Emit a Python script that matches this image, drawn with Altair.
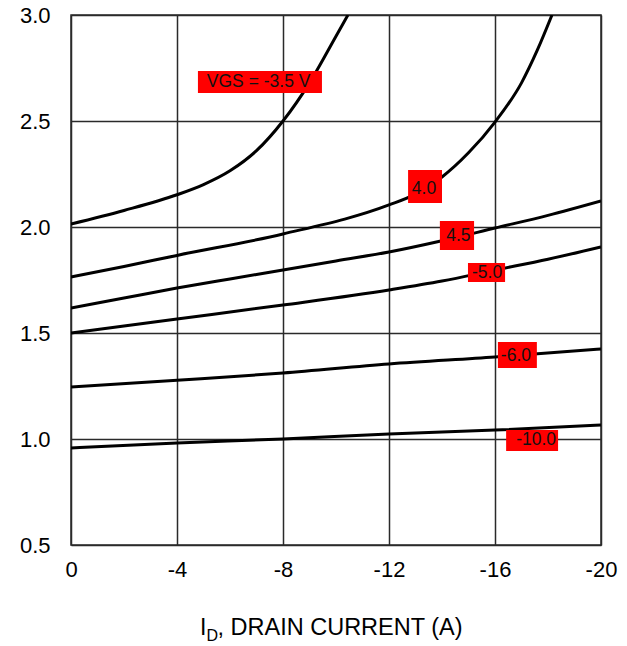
import altair as alt
import pandas as pd

# ---- data ----
SERIES = ["-3.5", "-4.0", "-4.5", "-5.0", "-6.0", "-10.0"]

ID_35 = [0, -2, -4, -5, -6, -7, -8, -9, -10, -10.45]
V_35 = [2.014, 2.078, 2.152, 2.2, 2.265, 2.36, 2.5, 2.68, 2.9, 3.0]

ID_40 = [0, -2, -4, -8, -12, -13, -14, -15, -16, -17, -17.6, -18.15]
V_40 = [1.764, 1.814, 1.866, 1.967, 2.104, 2.155, 2.236, 2.35, 2.495, 2.68, 2.835, 3.0]

ID_45 = [0, -2, -4, -6, -8, -10, -12, -14, -16, -18, -20]
V_45 = [1.618, 1.665, 1.712, 1.755, 1.797, 1.84, 1.882, 1.935, 1.995, 2.055, 2.123]

ID_50 = [0, -4, -8, -12, -14, -16, -18, -20]
V_50 = [1.5, 1.566, 1.632, 1.703, 1.745, 1.797, 1.848, 1.906]

ID_60 = [0, -4, -8, -12, -16, -20]
V_60 = [1.245, 1.277, 1.311, 1.354, 1.387, 1.425]

ID_100 = [0, -4, -8, -12, -16, -20]
V_100 = [0.958, 0.981, 1.0, 1.024, 1.042, 1.066]

CURVES = [ID_35, ID_40, ID_45, ID_50, ID_60, ID_100]
VALUES = [V_35, V_40, V_45, V_50, V_60, V_100]

X_TICKS = [0, -4, -8, -12, -16, -20]
Y_TICKS = [0.5, 1.0, 1.5, 2.0, 2.5, 3.0]

# annotation labels (data coordinates)
LABEL_TEXT = ["VGS = -3.5 V", "4.0", "4.5", "-5.0", "-6.0", "-10.0"]
LABEL_X = [-7.08, -13.32, -14.62, -15.70, -16.79, -17.55]
LABEL_Y = [2.684, 2.179, 1.958, 1.783, 1.392, 0.995]
BOX_X0 = [-4.79, -12.72, -13.92, -14.98, -16.11, -16.42]
BOX_X1 = [-9.47, -14.00, -15.21, -16.38, -17.58, -18.38]
BOX_Y0 = [2.632, 2.113, 1.892, 1.741, 1.335, 0.943]
BOX_Y1 = [2.736, 2.269, 2.028, 1.830, 1.458, 1.042]

# ---- tables ----
rows = []
for s, xs, ys in zip(SERIES, CURVES, VALUES):
    for i, (a, b) in enumerate(zip(xs, ys)):
        rows.append({"series": s, "ID": a, "V": b, "ord": i})
df = pd.DataFrame(rows)

lab = pd.DataFrame({
    "text": LABEL_TEXT, "x": LABEL_X, "y": LABEL_Y,
    "x0": BOX_X0, "x1": BOX_X1, "y0": BOX_Y0, "y1": BOX_Y1,
})

FONT = "Liberation Sans"
GRID = "#2a2a2a"

xscale = alt.Scale(domain=[0, -20], nice=False, zero=False)
yscale = alt.Scale(domain=[0.5, 3.0], nice=False, zero=False)

xaxis = alt.Axis(
    values=X_TICKS, title=None, grid=True, gridColor=GRID, gridWidth=1.5,
    gridOpacity=1, domain=False, ticks=False, tickSize=0, labelFont=FONT,
    labelFontSize=22, labelColor="black", labelPadding=14,
    labelExpr="'' + datum.value", labelFlush=False)
yaxis = alt.Axis(
    values=Y_TICKS, title=None, grid=True, gridColor=GRID, gridWidth=1.5,
    gridOpacity=1, domain=False, ticks=False, tickSize=0, labelFont=FONT,
    labelFontSize=22, labelColor="black", labelPadding=21, format=".1f",
    labelFlush=False)

lines = alt.Chart(df).mark_line(
    color="black", strokeWidth=3, clip=True, interpolate="monotone"
).encode(
    x=alt.X("ID:Q", scale=xscale, axis=xaxis, title=None),
    y=alt.Y("V:Q", scale=yscale, axis=yaxis, title=None),
    detail="series:N",
    order="ord:Q",
)

boxes = alt.Chart(lab).mark_rect(color="#ff0000").encode(
    x=alt.X("x0:Q", scale=xscale, axis=xaxis, title=None),
    x2="x1:Q",
    y=alt.Y("y0:Q", scale=yscale, axis=yaxis, title=None),
    y2="y1:Q",
)

texts = alt.Chart(lab).mark_text(
    font=FONT, fontSize=17.5, color="#111111", baseline="middle", align="center"
).encode(
    x=alt.X("x:Q", scale=xscale, axis=xaxis, title=None),
    y=alt.Y("y:Q", scale=yscale, axis=yaxis, title=None),
    text="text:N",
)

TITLE_PARTS = ["I", "D", ", DRAIN CURRENT (A)"]

t_main = alt.Chart(pd.DataFrame({"t": [TITLE_PARTS[0]]})).mark_text(
    font=FONT, fontSize=23, color="black", align="left", baseline="alphabetic"
).encode(x=alt.value(129), y=alt.value(620), text="t:N")
t_sub = alt.Chart(pd.DataFrame({"t": [TITLE_PARTS[1]]})).mark_text(
    font=FONT, fontSize=16, color="black", align="left", baseline="alphabetic"
).encode(x=alt.value(135.5), y=alt.value(626), text="t:N")
t_rest = alt.Chart(pd.DataFrame({"t": [TITLE_PARTS[2]]})).mark_text(
    font=FONT, fontSize=23.5, color="black", align="left", baseline="alphabetic"
).encode(x=alt.value(146.5), y=alt.value(620), text="t:N")

chart = alt.layer(lines, boxes, texts, t_main, t_sub, t_rest).properties(
    width=530, height=530,
    autosize=alt.AutoSizeParams(type="none"),
    padding={"left": 71, "top": 15, "right": 26, "bottom": 101},
    background="white",
).configure_view(stroke=GRID, strokeWidth=1.5)

chart.save("out.html", embed_options={"renderer": "svg", "actions": False})
